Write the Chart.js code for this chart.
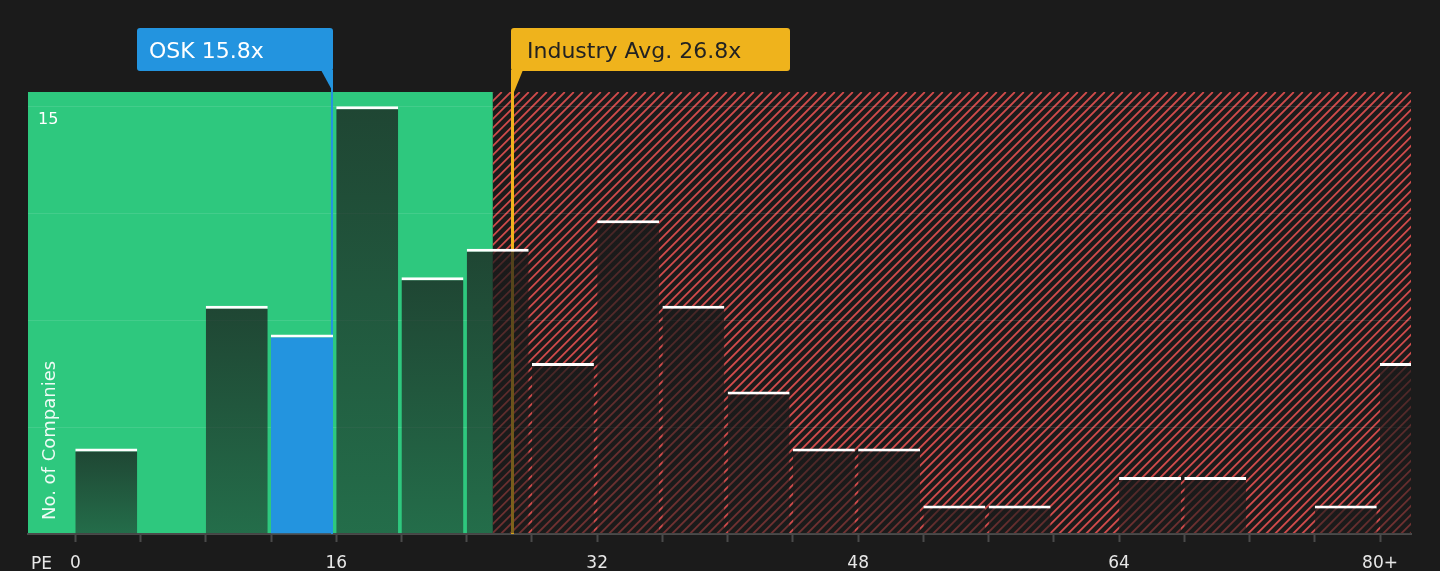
<!DOCTYPE html>
<html>
<head>
<meta charset="utf-8">
<script src="https://cdn.jsdelivr.net/npm/chart.js@4.4.1/dist/chart.umd.min.js"></script>
<style>
  html, body { margin: 0; padding: 0; background: #1b1b1b; overflow: hidden; }
  #wrap { width: 1440px; height: 571px; position: relative; }
</style>
</head>
<body>
<div id="wrap"><canvas id="peChart"></canvas></div>
<script>
// PE histogram, bins of 4 (last bin is 80+)
const binStarts = [0, 4, 8, 12, 16, 20, 24, 28, 32, 36, 40, 44, 48, 52, 56, 60, 64, 68, 72, 76, 80];
const companyCounts = [3, 0, 8, 7, 15, 9, 10, 6, 11, 8, 5, 3, 3, 1, 1, 0, 2, 2, 0, 1, 6];
const xTickValues = [0, 4, 8, 12, 16, 20, 24, 28, 32, 36, 40, 44, 48, 52, 56, 60, 64, 68, 72, 76, 80];
const xTickLabels = { 0: '0', 16: '16', 32: '32', 48: '48', 64: '64', 80: '80+' };
const yTickValues = [0, 3.75, 7.5, 11.25, 15];
const yTickLabels = { 15: '15' };

const companyName = 'OSK';
const companyPE = 15.8;
const industryPE = 26.8;
const fairPE = 25.6;   // end of the green zone
const binWidth = 4;
const xMin = -2.9, xMax = 81.9, yMax = 15.5;

const FONT = 'DejaVu Sans';
const GREEN = '#2ec87e';
const BLUE = '#2394df';
const YELLOW = '#efb31c';
const HATCH = '#cf4b4b';

function isCompanyBin(i) {
  return binStarts[i] <= companyPE && companyPE < binStarts[i] + binWidth;
}

// green zone + red hatched zone behind everything
const zonesPlugin = {
  id: 'zones',
  beforeDraw(chart) {
    const { ctx, chartArea: a, scales: { x } } = chart;
    const split = x.getPixelForValue(fairPE);
    ctx.save();
    ctx.fillStyle = GREEN;
    ctx.fillRect(a.left, a.top, split - a.left, a.bottom - a.top);

    ctx.beginPath();
    ctx.rect(split, a.top, a.right - split, a.bottom - a.top);
    ctx.clip();
    ctx.fillStyle = '#1b1b1b';
    ctx.fillRect(split, a.top, a.right - split, a.bottom - a.top);
    const h = a.bottom - a.top;
    ctx.strokeStyle = HATCH;
    ctx.lineWidth = 1.8;
    ctx.beginPath();
    for (let px = split - h; px < a.right + 10; px += 9) {
      ctx.moveTo(px, a.bottom);
      ctx.lineTo(px + h, a.top);
    }
    ctx.stroke();
    ctx.restore();
  }
};

// vertical marker lines (drawn under bars) and the labels on top
const markersPlugin = {
  id: 'markers',
  beforeDatasetsDraw(chart) {
    const { ctx, chartArea: a, scales: { x } } = chart;
    ctx.save();
    ctx.lineWidth = 2;
    ctx.strokeStyle = BLUE;
    const cx = Math.round(x.getPixelForValue(companyPE)) - 1;
    ctx.beginPath(); ctx.moveTo(cx, 71); ctx.lineTo(cx, a.bottom); ctx.stroke();
    ctx.lineWidth = 3;
    ctx.strokeStyle = YELLOW;
    const ix = Math.round(x.getPixelForValue(industryPE)) + 0.5;
    ctx.beginPath(); ctx.moveTo(ix, 71); ctx.lineTo(ix, a.bottom); ctx.stroke();
    ctx.restore();
  },
  afterDraw(chart) {
    const { ctx, chartArea: a, scales: { x } } = chart;
    ctx.save();
    // company label box, pointer on its right edge
    const cx = Math.round(x.getPixelForValue(companyPE));
    ctx.fillStyle = BLUE;
    roundRect(ctx, cx - 196, 28, 196, 43, 3);
    ctx.beginPath();
    ctx.moveTo(cx - 12, 70); ctx.lineTo(cx, 70); ctx.lineTo(cx, a.top); ctx.closePath();
    ctx.fill();
    ctx.fillStyle = '#ffffff';
    ctx.font = '22px "' + FONT + '"';
    ctx.textBaseline = 'alphabetic';
    ctx.fillText(companyName + ' ' + companyPE.toFixed(1) + 'x', cx - 184, 58);

    // industry label box, pointer on its left edge
    const ix = Math.round(x.getPixelForValue(industryPE));
    ctx.fillStyle = YELLOW;
    roundRect(ctx, ix - 1, 28, 279, 43, 3);
    ctx.beginPath();
    ctx.moveTo(ix - 1, 70); ctx.lineTo(ix + 11, 70); ctx.lineTo(ix + 2, a.top); ctx.lineTo(ix - 1, a.top); ctx.closePath();
    ctx.fill();
    ctx.fillStyle = '#222222';
    ctx.fillText('Industry Avg. ' + industryPE.toFixed(1) + 'x', ix + 15, 58);

    // axis captions
    ctx.fillStyle = '#e8e8e8';
    ctx.font = '17px "' + FONT + '"';
    ctx.fillText('PE', 31, 569);

    ctx.translate(a.left + 27, a.bottom - 14);
    ctx.rotate(-Math.PI / 2);
    ctx.fillStyle = 'rgba(255,255,255,0.92)';
    ctx.font = '18px "' + FONT + '"';
    ctx.fillText('No. of Companies', 0, 0);
    ctx.restore();
  }
};

function roundRect(ctx, x, y, w, h, r) {
  ctx.beginPath();
  ctx.moveTo(x + r, y);
  ctx.lineTo(x + w - r, y); ctx.quadraticCurveTo(x + w, y, x + w, y + r);
  ctx.lineTo(x + w, y + h - r); ctx.quadraticCurveTo(x + w, y + h, x + w - r, y + h);
  ctx.lineTo(x + r, y + h); ctx.quadraticCurveTo(x, y + h, x, y + h - r);
  ctx.lineTo(x, y + r); ctx.quadraticCurveTo(x, y, x + r, y);
  ctx.closePath();
  ctx.fill();
}

function barFill(context) {
  const i = context.dataIndex;
  if (isCompanyBin(i)) return BLUE;
  const chart = context.chart;
  if (!chart.chartArea || context.type !== 'data') return 'rgba(24,24,24,0.65)';
  const y = chart.scales.y;
  const top = y.getPixelForValue(context.parsed.y);
  const bottom = y.getPixelForValue(0);
  if (bottom - top < 1) return 'rgba(24,24,24,0.65)';
  const g = chart.ctx.createLinearGradient(0, top, 0, bottom);
  g.addColorStop(0, 'rgba(26,26,26,0.75)');
  g.addColorStop(1, 'rgba(26,26,26,0.52)');
  return g;
}

new Chart(document.getElementById('peChart'), {
  type: 'bar',
  data: {
    datasets: [{
      data: binStarts.map((s, i) => ({ x: s + binWidth * 0.475, y: companyCounts[i] })),
      backgroundColor: barFill,
      borderColor: '#ffffff',
      borderWidth: ctx => companyCounts[ctx.dataIndex] > 0 ? { top: 3, left: 0, right: 0, bottom: 0 } : 0,
      borderSkipped: false,
      barPercentage: 0.95,
      categoryPercentage: 1
    }]
  },
  options: {
    responsive: true,
    maintainAspectRatio: false,
    animation: false,
    layout: { padding: { top: 92, left: 8, right: 29, bottom: -14 } },
    plugins: { legend: { display: false }, tooltip: { enabled: false } },
    scales: {
      x: {
        type: 'linear',
        min: xMin,
        max: xMax,
        offset: false,
        afterBuildTicks: s => { s.ticks = xTickValues.map(v => ({ value: v })); },
        grid: { offset: false, drawOnChartArea: false, tickLength: 8, color: '#4a4a4a', tickWidth: 2 },
        border: { color: '#4a4a4a', width: 2 },
        ticks: {
          callback: v => xTickLabels[v] ?? '',
          color: '#e8e8e8',
          font: { family: FONT, size: 17, lineHeight: 1 },
          padding: 13,
          maxRotation: 0,
          autoSkip: false
        }
      },
      y: {
        min: 0,
        max: yMax,
        afterBuildTicks: s => { s.ticks = yTickValues.map(v => ({ value: v })); },
        grid: { color: 'rgba(255,255,255,0.1)', drawTicks: false },
        border: { display: false },
        ticks: {
          mirror: true,
          padding: 10,
          labelOffset: 14,
          callback: v => yTickLabels[v] ?? '',
          color: '#ffffff',
          font: { family: FONT, size: 16 }
        }
      }
    }
  },
  plugins: [zonesPlugin, markersPlugin]
});
</script>
</body>
</html>
